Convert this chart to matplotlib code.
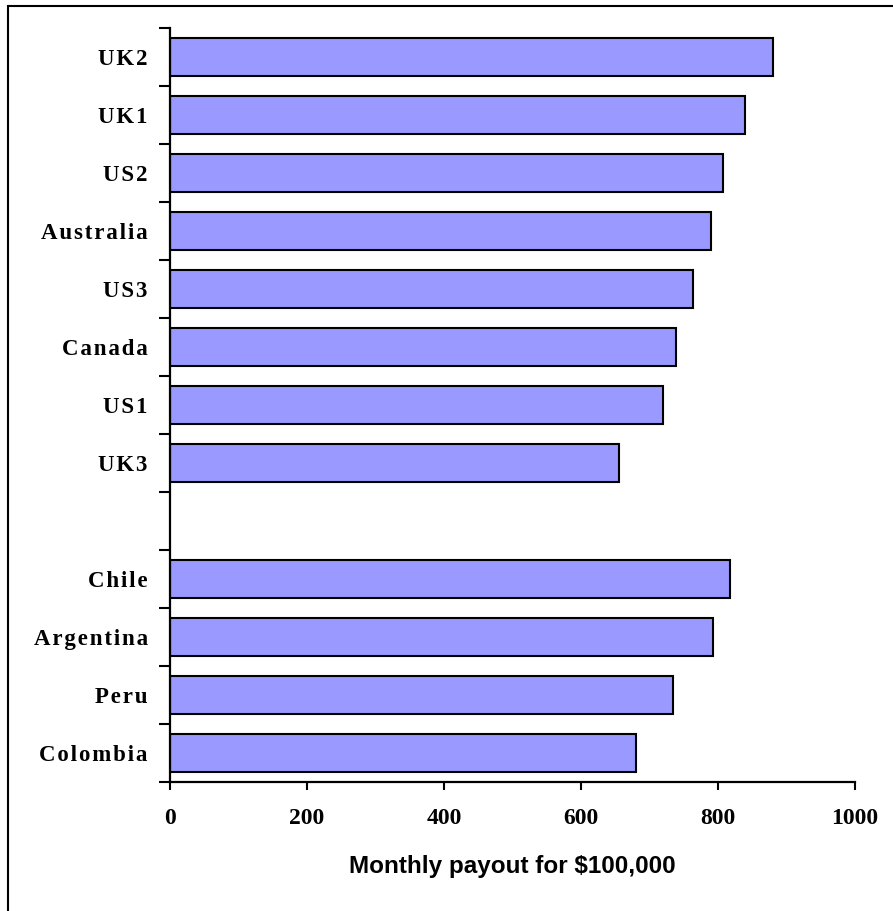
#!/usr/bin/env python3
# -*- coding: utf-8 -*-
import numpy as np
from matplotlib import pyplot as plt
from matplotlib.patches import Rectangle

# monthly payout (USD) for a $100,000 annuity premium
countries_top = ['UK2', 'UK1', 'US2', 'Australia', 'US3', 'Canada', 'US1', 'UK3']
payout_top = [880, 839, 807, 790, 764, 738, 720, 655]
countries_latam = ['Chile', 'Argentina', 'Peru', 'Colombia']
payout_latam = [817, 793, 734, 681]

x_ticks = [0, 200, 400, 600, 800, 1000]

BAR_COLOR = '#9999FF'
SERIF = ['Liberation Serif', 'DejaVu Serif']


def spaced(s):
    # the original labels have a little letter spacing
    return '\u200a'.join(s)


# one empty slot between the two groups
pos_top = np.arange(len(countries_top))
pos_latam = np.arange(len(countries_latam)) + len(countries_top) + 1
n_slots = len(countries_top) + 1 + len(countries_latam)

fig = plt.figure(figsize=(8.93, 9.11), dpi=100)
ax = fig.add_axes([170 / 893, 1 - 782 / 911, 685 / 893, 754 / 911])

ax.barh(pos_top, payout_top, height=0.66, color=BAR_COLOR, edgecolor='black', linewidth=1.5)
ax.barh(pos_latam, payout_latam, height=0.66, color=BAR_COLOR, edgecolor='black', linewidth=1.5)

ax.set_xlim(0, 1000)
ax.set_ylim(n_slots - 0.5, -0.5)

ax.spines['top'].set_visible(False)
ax.spines['right'].set_visible(False)
for s in ('left', 'bottom'):
    ax.spines[s].set_linewidth(1.6)

# category labels sit between tick marks (ticks on slot boundaries)
ax.set_yticks(np.concatenate([pos_top, pos_latam]))
ax.set_yticklabels([spaced(c) for c in countries_top + countries_latam],
                   family=SERIF, fontweight='bold', fontsize=16.5)
ax.set_yticks(np.arange(-0.5, n_slots, 1.0), minor=True)
ax.tick_params(axis='y', which='major', length=0, pad=16)
ax.tick_params(axis='y', which='minor', length=8, width=1.5, direction='out')

ax.set_xticks(x_ticks)
ax.set_xticklabels([str(v) for v in x_ticks], family=SERIF, fontweight='bold', fontsize=17)
ax.tick_params(axis='x', length=6, width=1.5, direction='out', pad=13)

fig.text(512 / 893, 1 - 866 / 911, 'Monthly payout for $100,000',
         ha='center', va='center', family=['Liberation Sans', 'DejaVu Sans'],
         fontweight='bold', fontsize=17.5)

# chart frame (right and bottom edges fall outside the picture)
fig.patches.append(Rectangle((8 / 893, -0.1), 1.2, 1.1 - 6 / 911, transform=fig.transFigure,
                             fill=False, edgecolor='black', linewidth=1.5))

fig.savefig('out.png', dpi=100)
